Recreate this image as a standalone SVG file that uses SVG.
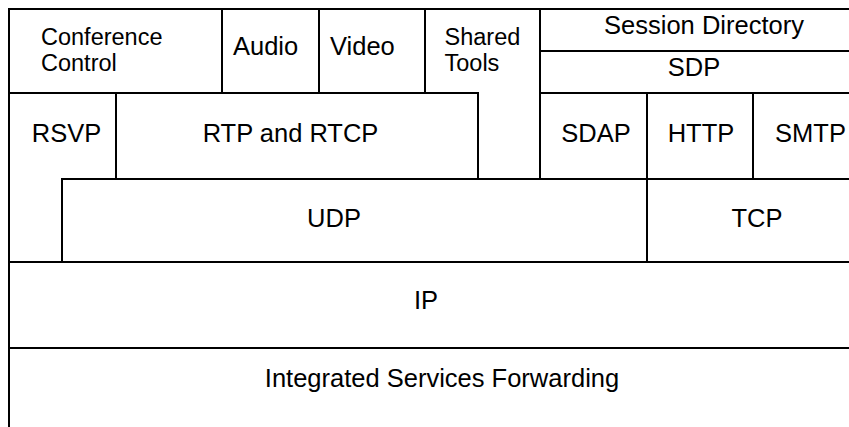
<svg xmlns="http://www.w3.org/2000/svg" width="849" height="427" viewBox="0 0 849 427">
<style>
.b{fill:none;stroke:#000;stroke-width:2;stroke-linecap:square}
text{font-family:"Liberation Sans",Arial,sans-serif;font-size:25.5px;fill:#000}
.c{text-anchor:middle}
.t{font-size:23.5px}
</style>
<rect width="849" height="427" fill="#fff"/>
<g id="conference-control">
<path class="b" d="M9,93 V9 H222 V93 Z"/>
<text class="t" x="41" y="44.5">Conference</text>
<text class="t" x="41" y="71">Control</text>
</g>
<g id="audio">
<path class="b" d="M222,9 H319 V93 H222 Z"/>
<text x="233" y="55">Audio</text>
</g>
<g id="video">
<path class="b" d="M319,9 H425 V93 H319 Z"/>
<text x="330" y="55">Video</text>
</g>
<g id="shared-tools">
<path class="b" d="M425,9 H540 V179 H478 V93 H425 Z"/>
<text class="t" x="444.5" y="44.5">Shared</text>
<text class="t" x="444.5" y="71">Tools</text>
</g>
<g id="session-directory">
<path class="b" d="M849,9 H540 V51 H849"/>
<text class="c" x="704" y="34">Session Directory</text>
</g>
<g id="sdp">
<path class="b" d="M849,51 H540 V93 H849"/>
<text class="c" x="694" y="76">SDP</text>
</g>
<g id="rsvp">
<path class="b" d="M9,93 H116 V179 H62 V262 H9 Z"/>
<text class="c" x="66.5" y="142">RSVP</text>
</g>
<g id="rtp-rtcp">
<path class="b" d="M116,93 H478 V179 H116 Z"/>
<text class="c" x="290.5" y="142">RTP and RTCP</text>
</g>
<g id="sdap">
<path class="b" d="M540,93 H647 V179 H540 Z"/>
<text class="c" x="596" y="142">SDAP</text>
</g>
<g id="http">
<path class="b" d="M647,93 H753 V179 H647 Z"/>
<text class="c" x="701" y="142">HTTP</text>
</g>
<g id="smtp">
<path class="b" d="M849,93 H753 V179 H849"/>
<text class="c" x="810.5" y="142">SMTP</text>
</g>
<g id="udp">
<path class="b" d="M62,179 H647 V262 H62 Z"/>
<text class="c" x="334" y="227">UDP</text>
</g>
<g id="tcp">
<path class="b" d="M849,179 H647 V262 H849"/>
<text class="c" x="757" y="227">TCP</text>
</g>
<g id="ip">
<path class="b" d="M849,262 H9 V348 H849"/>
<text class="c" x="426" y="309">IP</text>
</g>
<g id="integrated-services-forwarding">
<path class="b" d="M849,348 H9 V428"/>
<text class="c" x="442" y="387">Integrated Services Forwarding</text>
</g>
<g id="connectors"/>
</svg>
